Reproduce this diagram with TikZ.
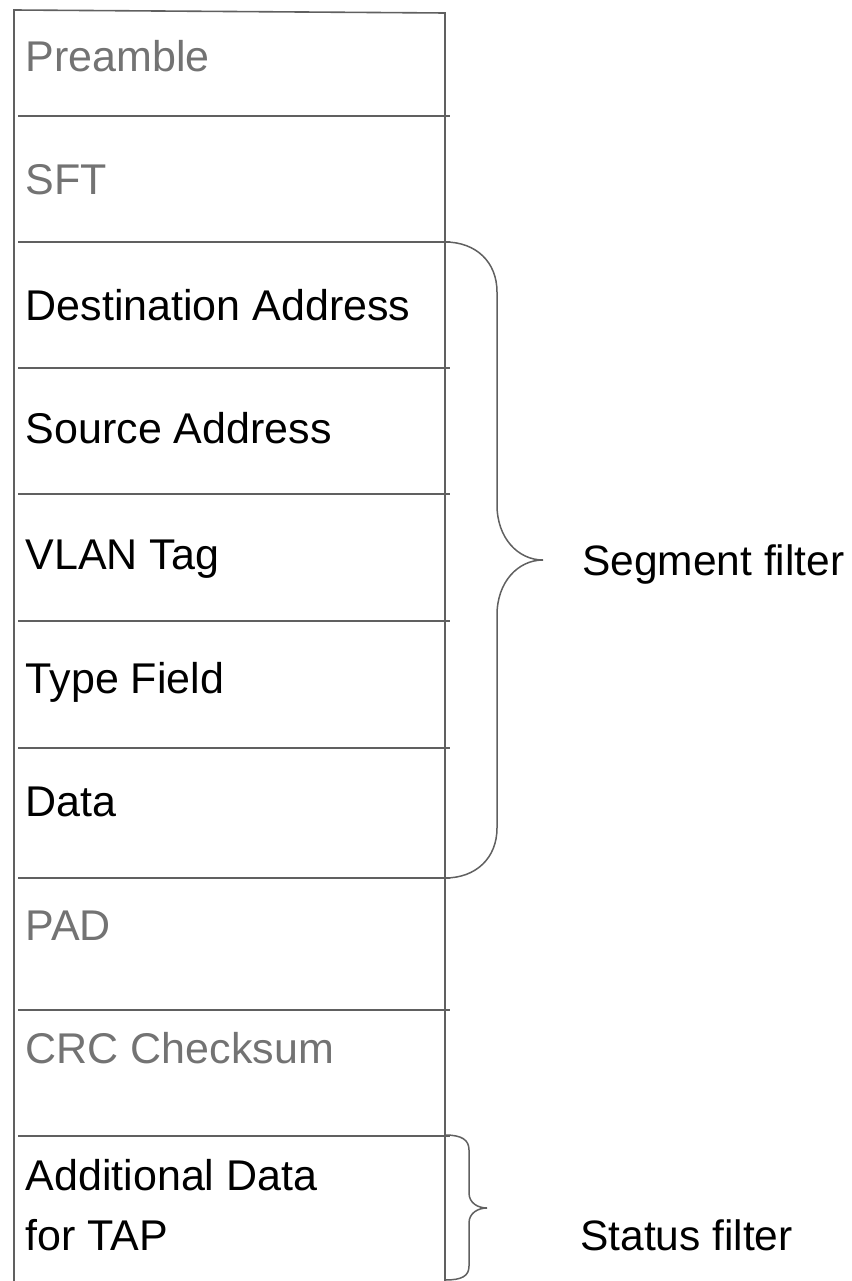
\documentclass[tikz,border=0pt]{standalone}
\usepackage{fontspec}
\setmainfont{Liberation Sans}
\definecolor{linegray}{HTML}{606060}
\definecolor{dimtext}{HTML}{737373}
\tikzset{
  rule/.style={draw=linegray, line width=1.6pt},
  bracepath/.style={draw=linegray, line width=1.5pt},
  field/.style={anchor=base west, inner sep=0pt, font=\fontsize{43}{51}\selectfont},
  dimfield/.style={field, text=dimtext},
  label/.style={anchor=base west, inner sep=0pt, font=\fontsize{42.5}{51}\selectfont}
}
\begin{document}
\begin{tikzpicture}[x=1pt,y=-1pt]
\useasboundingbox (0,0) rectangle (851,1281);
% frame
\draw[rule] (14,1281) -- (14,10) -- (445,13) -- (445,1281);
% separators
\foreach \y in {116,242,368,494,621,748,878,1010,1136}
  \draw[rule] (18,\y) -- (450,\y);
% field texts
\node[dimfield] (pre) at (25.5,72) {Preamble};
\node[dimfield] (sft) at (25.5,195) {SFT};
\node[field] (dst) at (25.5,320) {Destination Address};
\node[field] (src) at (25.5,443) {Source Address};
\node[field] (vlan) at (25.5,569) {VLAN Tag};
\node[field] (type) at (25.5,693) {Type Field};
\node[field] (data) at (25.5,816) {Data};
\node[dimfield] (pad) at (25.5,940) {PAD};
\node[dimfield] (crc) at (25.5,1063) {CRC Checksum};
\node[field] (add) at (25.5,1190) {Additional Data};
\node[field] (tap) at (25.5,1250) {for TAP};
% segment brace
\draw[bracepath] (445,242) .. controls (476,242) and (497,262) .. (497,292)
  -- (497,505) .. controls (497,538) and (518,560) .. (543,560)
  .. controls (518,560) and (497,582) .. (497,615)
  -- (497,828) .. controls (497,858) and (476,878) .. (445,878);
\node[label] (seg) at (582,575) {Segment filter};
% status brace
\draw[bracepath] (445,1135) .. controls (462,1135) and (469,1140) .. (469,1150)
  -- (469,1193) .. controls (469,1203) and (478,1208) .. (487,1208)
  .. controls (478,1208) and (469,1213) .. (469,1223)
  -- (469,1266) .. controls (469,1276) and (462,1280) .. (445,1280);
\node[label] (stat) at (580,1250) {Status filter};
\end{tikzpicture}
\end{document}
